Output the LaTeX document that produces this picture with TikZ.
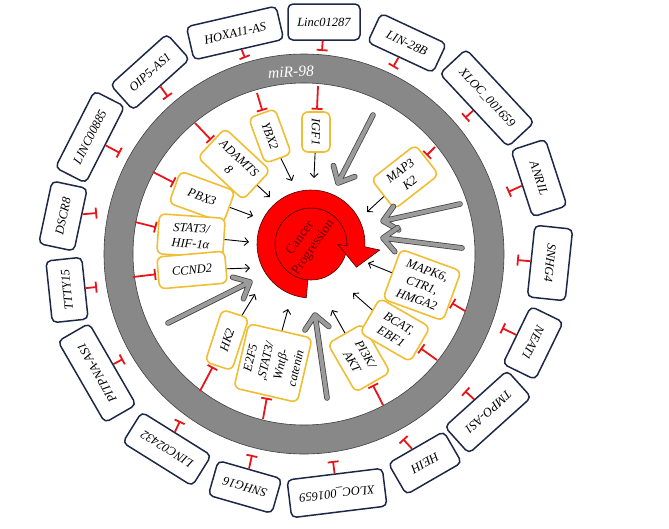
\documentclass[tikz,border=0pt]{standalone}
\usepackage{fontspec}
\setmainfont{Liberation Serif}
\usetikzlibrary{arrows.meta,calc}
\definecolor{navy}{RGB}{28,40,72}
\definecolor{gold}{RGB}{240,190,50}
\definecolor{tred}{RGB}{232,20,25}
\definecolor{ringgray}{RGB}{136,136,136}
\definecolor{arrgray}{RGB}{155,155,155}
\definecolor{arredge}{RGB}{70,70,70}
\definecolor{cred}{RGB}{255,0,0}
\definecolor{ctext}{RGB}{105,0,0}
\definecolor{cedge}{RGB}{80,0,0}
\tikzset{
  nbox/.style={draw=navy, line width=1.5pt, rounded corners=5pt, fill=white,
    font=\fontsize{12.5}{13.5}\selectfont\itshape, inner sep=2pt, align=center},
  ybox/.style={draw=gold, line width=1.6pt, rounded corners=6pt, fill=white,
    font=\fontsize{12.5}{15.5}\selectfont\itshape, inner sep=2pt, align=center},
  tbar/.style={draw=tred, line width=1.8pt, -{Bar[width=11pt]}},
  blk/.style={draw=black, line width=0.9pt, -{Straight Barb[length=4pt,width=8pt]}},
  bigarr/.style={draw=arrgray, line width=4pt, line cap=round, line join=round,
    preaction={draw=arredge, line width=5.6pt, line cap=round, line join=round}},
}
\newcommand\mybigarrow[2]{\draw[bigarr] (#1) -- (#2) ($(#2)!18pt!42:(#1)$) -- (#2) -- ($(#2)!18pt!-42:(#1)$);}
\begin{document}
\begin{tikzpicture}[x=1pt,y=-1pt]
\useasboundingbox (0,0) rectangle (669,528);
\coordinate (C) at (304,254);
% ring
\fill[ringgray, draw=black!75, line width=0.6pt, even odd rule] (C) circle[radius=200pt] (C) circle[radius=171pt];
\node[text=white, font=\fontsize{15.5}{16}\selectfont\itshape, rotate=3] (mir) at (291,72) {miR-98};

% outer lncRNA boxes
\node[nbox, minimum width=72pt, minimum height=36pt] (l1) at (324,22) {Linc01287};
\node[nbox, rotate=13, minimum width=92pt, minimum height=34pt] (l2) at (235,33) {HOXA11-AS};
\node[nbox, rotate=42, minimum width=76pt, minimum height=34pt] (l3) at (150,72) {OIP5-AS1};
\node[nbox, rotate=63, minimum width=86pt, minimum height=34pt] (l4) at (90,137) {LINC00885};
\node[nbox, rotate=78, minimum width=64pt, minimum height=36pt] (l5) at (63,216) {DSCR8};
\node[nbox, rotate=96, minimum width=62pt, minimum height=36pt] (l6) at (67,290) {TTTY15};
\node[nbox, rotate=120, minimum width=94pt, minimum height=36pt] (l7) at (97,373) {PITPNA-AS1};
\node[nbox, rotate=148, minimum width=82pt, minimum height=36pt] (l8) at (167,449) {LINC02432};
\node[nbox, rotate=164, minimum width=66pt, minimum height=36pt] (l9) at (245,487) {SNHG16};
\node[nbox, rotate=187, minimum width=96pt, minimum height=38pt] (l10) at (337,493) {XLOC\_001659};
\node[nbox, rotate=210, minimum width=64pt, minimum height=36pt] (l11) at (425,463) {HEIH};
\node[nbox, rotate=222, minimum width=84pt, minimum height=36pt] (l12) at (488,412) {TMPO-AS1};
\node[nbox, rotate=-116, minimum width=64pt, minimum height=36pt] (l13) at (533,343) {NEAT1};
\node[nbox, rotate=-96, minimum width=72pt, minimum height=38pt] (l14) at (550,263) {SNHG4};
\node[nbox, rotate=-72, minimum width=70pt, minimum height=36pt] (l15) at (539,178) {ANRIL};
\node[nbox, rotate=-47, minimum width=100pt, minimum height=36pt] (l16) at (487,98) {XLOC\_001659};
\node[nbox, rotate=-25, minimum width=72pt, minimum height=32pt] (l17) at (407,43) {LIN-28B};

% outer inhibition end points (on ring)
\coordinate (o1) at (322,51);
\coordinate (o2) at (245,58);
\coordinate (o3) at (168,97);
\coordinate (o4) at (120,153);
\coordinate (o5) at (97,213);
\coordinate (o6) at (97,287);
\coordinate (o7) at (123,359);
\coordinate (o8) at (180,421);
\coordinate (o9) at (252,455);
\coordinate (o10) at (333,461);
\coordinate (o11) at (403,439);
\coordinate (o12) at (465,391);
\coordinate (o13) at (502,328);
\coordinate (o14) at (517,260);
\coordinate (o15) at (508,192);
\coordinate (o16) at (465,118);
\coordinate (o17) at (393,67);
\foreach \i in {1,...,17} {\draw[tbar] (l\i) -- (o\i);}

% inner target boxes
\node[ybox, rotate=-90, minimum width=40pt, minimum height=28pt] (g1) at (316,132) {IGF1};
\node[ybox, rotate=-70, minimum width=48pt, minimum height=28pt] (g2) at (270,136) {YBX2};
\node[ybox, rotate=-43, minimum width=62pt, minimum height=40pt] (g3) at (234,164) {ADAMTS\\8};
\node[ybox, rotate=-20, minimum width=58pt, minimum height=34pt] (g4) at (202,197) {PBX3};
\node[ybox, rotate=-4, minimum width=66pt, minimum height=40pt] (g5) at (191,236) {STAT3/\\HIF-1α};
\node[ybox, rotate=5, minimum width=68pt, minimum height=32pt] (g6) at (192,270) {CCND2};
\node[ybox, rotate=72, minimum width=55pt, minimum height=28pt] (g7) at (227,340) {HK2};
\node[ybox, rotate=77, minimum width=66pt, minimum height=65pt] (g8) at (273,363) {E2F5\\,STAT3/\\Wntβ-\\catenin};
\node[ybox, rotate=-60, minimum width=56pt, minimum height=40pt] (g9) at (359,358) {PI3K/\\AKT};
\node[ybox, rotate=-30, minimum width=58pt, minimum height=40pt] (g10) at (395,330) {BCAT,\\EBF1};
\node[ybox, rotate=-20, minimum width=64pt, minimum height=53pt] (g11) at (422,285) {MAPK6,\\CTR1,\\HMGA2};
\node[ybox, rotate=38, minimum width=56pt, minimum height=38pt] (g12) at (405,177) {MAP3\\K2};

% inner inhibition start points (on ring)
\coordinate (r1) at (318,86);
\coordinate (r2) at (257,93);
\coordinate (r3) at (195,123);
\coordinate (r4) at (153,172);
\coordinate (r5) at (135,222);
\coordinate (r6) at (133,277);
\coordinate (r7) at (200,391);
\coordinate (r8) at (263,419);
\coordinate (r9) at (383,405);
\coordinate (r10) at (437,360);
\coordinate (r11) at (465,311);
\coordinate (r12) at (435,147);
\foreach \i in {1,...,12} {\draw[tbar, shorten >=1.5pt] (r\i) -- (g\i);}

% arrow tips towards the centre
\coordinate (a1) at (314,178);
\coordinate (a2) at (292,181);
\coordinate (a3) at (270,197);
\coordinate (a4) at (253,216);
\coordinate (a5) at (249,242);
\coordinate (a6) at (250,268);
\coordinate (a7) at (255,294);
\coordinate (a8) at (288,309);
\coordinate (a9) at (332,310);
\coordinate (a10) at (353,293);
\coordinate (a11) at (368,263);
\coordinate (a12) at (367,212);
\foreach \i in {1,...,12} {\draw[blk] (g\i) -- (a\i);}

% cancer progression
\begin{scope}[shift={(311,244)}, y=1pt]
  \filldraw[fill=cred, draw=cedge, line width=0.6pt] (0,0) circle[radius=36pt];
  \filldraw[fill=cred, draw=cedge, line width=0.6pt]
    (265:54) arc[start angle=265, end angle=-3, radius=54]
    -- (-5:69) -- (-27:51) -- (-1:27) -- (-3:36)
    arc[start angle=-3, end angle=265, radius=36] -- cycle;
  \node[rotate=55, text=ctext, font=\fontsize{13.5}{16}\selectfont, align=center] (cp) at (-4,1) {Cancer\\Progression};
\end{scope}

% big grey arrows
\coordinate (gs1) at (373,115); \coordinate (gt1) at (338,183);
\coordinate (gs2) at (460,204); \coordinate (gt2) at (383,221);
\coordinate (gs3) at (462,248); \coordinate (gt3) at (383,238);
\coordinate (gs4) at (168,323); \coordinate (gt4) at (250,282);
\coordinate (gs5) at (327,398); \coordinate (gt5) at (315,315);
\mybigarrow{gs1}{gt1}
\mybigarrow{gs2}{gt2}
\mybigarrow{gs3}{gt3}
\mybigarrow{gs4}{gt4}
\mybigarrow{gs5}{gt5}
\end{tikzpicture}
\end{document}
